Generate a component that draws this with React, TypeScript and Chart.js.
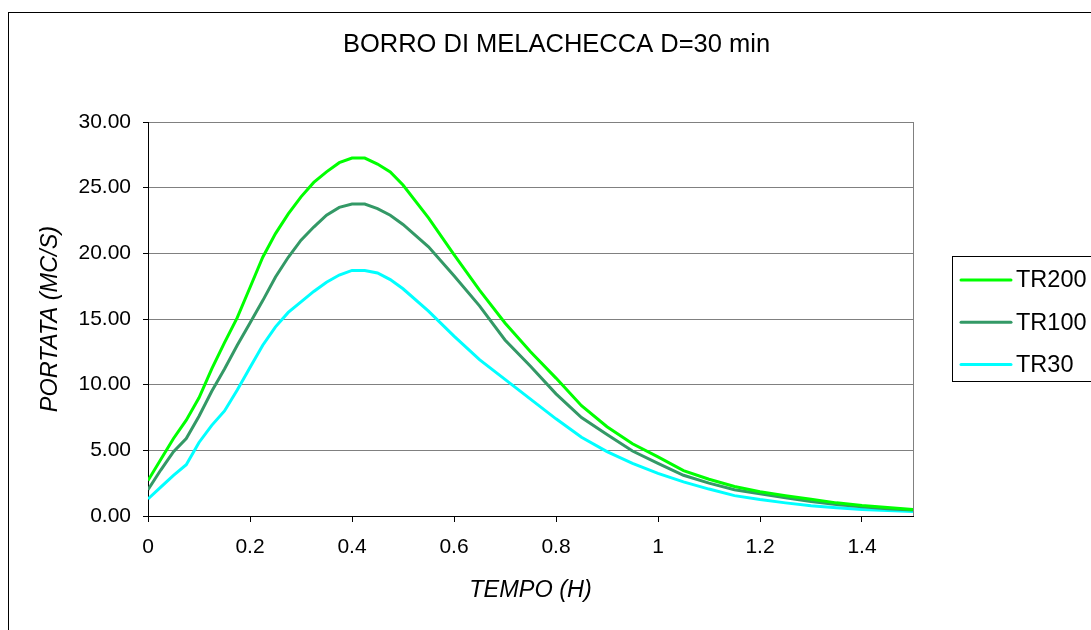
import React, { useEffect, useRef } from 'react';
import { Chart, registerables } from 'chart.js';

Chart.register(...registerables);

const FONT = '"Liberation Sans", Arial, sans-serif';

const CHART_TITLE = 'BORRO DI MELACHECCA D=30 min';
const X_TITLE = 'TEMPO (H)';
const Y_TITLE = 'PORTATA (MC/S)';

const TIME = [
  0, 0.025, 0.05, 0.075, 0.1, 0.125, 0.15, 0.175, 0.2, 0.225, 0.25, 0.275, 0.3, 0.325, 0.35,
  0.375, 0.4, 0.425, 0.45, 0.475, 0.5, 0.55, 0.6, 0.65, 0.7, 0.75, 0.8, 0.85, 0.9, 0.95, 1.0,
  1.05, 1.1, 1.15, 1.2, 1.25, 1.3, 1.35, 1.4, 1.45, 1.5,
];

const TR200 = [
  2.7, 4.3, 5.9, 7.3, 9.0, 11.2, 13.2, 15.1, 17.4, 19.7, 21.5, 23.0, 24.3, 25.4, 26.2,
  26.9, 27.25, 27.25, 26.8, 26.2, 25.2, 22.7, 19.9, 17.2, 14.7, 12.5, 10.5, 8.4, 6.8, 5.5, 4.5,
  3.45, 2.8, 2.25, 1.85, 1.55, 1.27, 1.0, 0.8, 0.65, 0.5,
];

const TR100 = [
  2.0, 3.5, 4.9, 5.9, 7.6, 9.5, 11.2, 13.0, 14.7, 16.4, 18.2, 19.7, 21.0, 22.0, 22.9,
  23.5, 23.75, 23.75, 23.4, 22.9, 22.2, 20.5, 18.3, 16.0, 13.4, 11.4, 9.3, 7.5, 6.2, 4.95, 4.0,
  3.1, 2.5, 2.0, 1.7, 1.38, 1.1, 0.88, 0.7, 0.55, 0.45,
];

const TR30 = [
  1.3, 2.2, 3.1, 3.9, 5.6, 6.9, 8.0, 9.6, 11.3, 13.0, 14.4, 15.5, 16.3, 17.1, 17.8,
  18.35, 18.7, 18.7, 18.5, 18.0, 17.3, 15.6, 13.7, 11.9, 10.4, 8.9, 7.4, 6.0, 4.9, 4.0, 3.25,
  2.6, 2.05, 1.55, 1.25, 1.0, 0.78, 0.62, 0.5, 0.42, 0.35,
];

const SERIES_LABELS = ['TR200', 'TR100', 'TR30'];
const SERIES_VALUES = [TR200, TR100, TR30];
const SERIES_COLORS = ['#00FF00', '#339966', '#00FFFF'];

const framePlugin = {
  id: 'frame',
  beforeDraw(chart: any) {
    const ctx = chart.ctx;
    ctx.save();
    ctx.fillStyle = '#FFFFFF';
    ctx.fillRect(0, 0, chart.width, chart.height);
    ctx.strokeStyle = '#000000';
    ctx.lineWidth = 1;
    ctx.strokeRect(8.5, 12.5, chart.width + 20, chart.height + 20);
    ctx.fillStyle = '#000000';
    ctx.font = `25.5px ${FONT}`;
    ctx.textAlign = 'center';
    ctx.textBaseline = 'middle';
    ctx.fillText(CHART_TITLE, 556.5, 45);
    ctx.restore();
  },
  beforeDatasetsDraw(chart: any) {
    const { ctx, chartArea } = chart;
    ctx.save();
    ctx.strokeStyle = '#808080';
    ctx.lineWidth = 1;
    ctx.beginPath();
    const x = Math.round(chartArea.right) + 0.5;
    ctx.moveTo(x, chartArea.top);
    ctx.lineTo(x, chartArea.bottom);
    ctx.stroke();
    ctx.restore();
  },
  afterDraw(chart: any) {
    const ctx = chart.ctx;
    ctx.save();
    ctx.strokeStyle = '#000000';
    ctx.lineWidth = 1;
    ctx.strokeRect(952.5, 256.5, 200, 125);
    chart.data.datasets.forEach((ds: any, i: number) => {
      const y = 280 + i * 42.2;
      ctx.strokeStyle = ds.borderColor;
      ctx.lineWidth = 3;
      ctx.lineCap = 'round';
      ctx.beginPath();
      ctx.moveTo(961, y);
      ctx.lineTo(1011, y);
      ctx.stroke();
      ctx.fillStyle = '#000000';
      ctx.font = `23.5px ${FONT}`;
      ctx.textBaseline = 'middle';
      ctx.textAlign = 'left';
      ctx.fillText(ds.label, 1016, y + 1);
    });
    ctx.restore();
  },
};

export default function App() {
  const ref = useRef<HTMLCanvasElement | null>(null);

  useEffect(() => {
    if (!ref.current) return;
    const chart = new Chart(ref.current, {
      type: 'line',
      data: {
        datasets: SERIES_LABELS.map((label, i) => ({
          label,
          data: TIME.map((t, j) => ({ x: t, y: SERIES_VALUES[i][j] })),
          borderColor: SERIES_COLORS[i],
          backgroundColor: SERIES_COLORS[i],
          borderWidth: 3,
          pointRadius: 0,
          tension: 0,
          fill: false,
        })),
      },
      options: {
        animation: false,
        responsive: false,
        devicePixelRatio: 1,
        layout: { padding: { left: 0, right: 178, top: 122, bottom: 0 } },
        plugins: {
          legend: { display: false },
          tooltip: { enabled: false },
          title: { display: false },
        },
        scales: {
          x: {
            type: 'linear',
            min: 0,
            max: 1.5,
            afterFit: (s: any) => {
              s.height = 114;
            },
            ticks: {
              stepSize: 0.2,
              includeBounds: false,
              autoSkip: false,
              maxRotation: 0,
              color: '#000000',
              font: { family: FONT, size: 21 },
              padding: 13,
              callback: (v: any) => String(Number(Number(v).toFixed(1))),
            },
            grid: {
              drawOnChartArea: false,
              drawTicks: true,
              tickLength: 6,
              tickColor: '#000000',
            },
            border: { color: '#000000', width: 1 },
            title: {
              display: true,
              text: X_TITLE,
              color: '#000000',
              font: { family: FONT, size: 23.5, style: 'italic' },
              padding: { top: 0, bottom: 25.9 },
            },
          },
          y: {
            type: 'linear',
            min: 0,
            max: 30,
            afterFit: (s: any) => {
              s.width = 148;
            },
            ticks: {
              stepSize: 5,
              color: '#000000',
              font: { family: FONT, size: 21 },
              padding: 12,
              callback: (v: any) => Number(v).toFixed(2),
            },
            grid: {
              color: (c: any) => (c.tick && c.tick.value === 0 ? 'rgba(0,0,0,0)' : '#808080'),
              tickLength: 5,
              tickColor: '#000000',
              lineWidth: 1,
            },
            border: { color: '#000000', width: 1 },
            title: {
              display: true,
              text: Y_TITLE,
              color: '#000000',
              font: { family: FONT, size: 23.5, style: 'italic' },
              padding: { top: 36.4, bottom: 0 },
            },
          },
        },
      },
      plugins: [framePlugin],
    } as any);
    return () => chart.destroy();
  }, []);

  return (
    <div style={{ position: 'fixed', left: 0, top: 0, width: 1091, height: 630, background: '#fff' }}>
      <canvas ref={ref} width={1091} height={630} style={{ display: 'block' }} />
    </div>
  );
}
